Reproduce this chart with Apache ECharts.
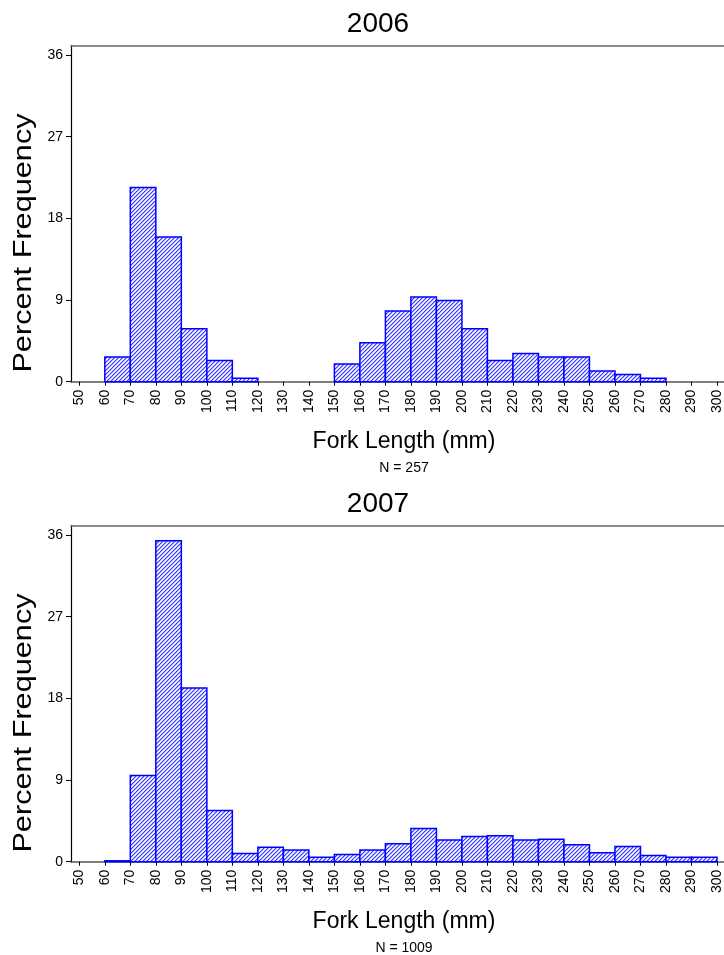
<!DOCTYPE html>
<html>
<head>
<meta charset="utf-8">
<script src="https://cdn.jsdelivr.net/npm/echarts@6/dist/echarts.min.js"></script>
<style>
html,body{margin:0;padding:0;background:#fff;}
#chart{width:724px;height:955px;}
</style>
</head>
<body>
<div id="chart"></div>
<script>
// ---- data ----
const binWidth = 10;
const titles = ['2006', '2007'];
const sampleSizes = ['N = 257', 'N = 1009'];
const xTicks = [50, 300, 10];          // min, max, step of the length axis
const yTicks = [0, 36, 9];             // min, max, step of the percent axis
const bins2006 = [60, 70, 80, 90, 100, 110, 150, 160, 170, 180, 190, 200, 210, 220, 230, 240, 250, 260, 270];
const pct2006  = [2.72, 21.40, 15.95, 5.84, 2.33, 0.39, 1.95, 4.28, 7.78, 9.34, 8.95, 5.84, 2.33, 3.11, 2.72, 2.72, 1.17, 0.78, 0.39];
const bins2007 = [60, 70, 80, 90, 100, 110, 120, 130, 140, 150, 160, 170, 180, 190, 200, 210, 220, 230, 240, 250, 260, 270, 280, 290];
const pct2007  = [0.10, 9.51, 35.38, 19.13, 5.65, 0.89, 1.59, 1.29, 0.50, 0.79, 1.29, 1.98, 3.67, 2.38, 2.78, 2.87, 2.38, 2.48, 1.88, 0.99, 1.68, 0.69, 0.50, 0.50];

// ---- hatch pattern (pixel diagonal "////") ----
function makeHatch() {
  const c = document.createElement('canvas');
  const s = 4;
  c.width = s; c.height = s;
  const g = c.getContext('2d');
  g.fillStyle = '#ffffff';
  g.fillRect(0, 0, s, s);
  for (let i = 0; i < s; i++) {
    const y = s - 1 - i;
    g.fillStyle = '#3c3cff';
    g.fillRect(i, y, 1, 1);
    g.fillStyle = '#a8a8ff';
    g.fillRect(i, (y + 1) % s, 1, 1);
    g.fillStyle = '#d6d6ff';
    g.fillRect(i, (y + s - 1) % s, 1, 1);
  }
  return c;
}
const hatch = { image: makeHatch(), repeat: 'repeat' };

const FONT = "'Liberation Sans', Arial, sans-serif";
const chart = echarts.init(document.getElementById('chart'), null, { renderer: 'canvas' });

const panelTop = [0, 480];
const grids = [], xAxes = [], yAxes = [], series = [], titleComps = [], graphics = [];

function buildPanel(p, bins, vals) {
  const off = panelTop[p];
  const fIdx = p * 2, dIdx = p * 2 + 1;
  grids.push({ left: 71, top: 45.7 + off, width: 653, height: 336 });
  grids.push({ left: 79.3, top: 55 + off, width: 639.7, height: 326.7 });

  xAxes.push({ gridIndex: fIdx, type: 'value', min: 0, max: 1, position: 'bottom',
    axisLine: { show: true, lineStyle: { color: '#555', width: 1.5 } },
    axisTick: { show: false }, axisLabel: { show: false }, splitLine: { show: false } });
  xAxes.push({ gridIndex: fIdx, type: 'value', min: 0, max: 1, position: 'top',
    axisLine: { show: true, lineStyle: { color: '#666', width: 1.5 } },
    axisTick: { show: false }, axisLabel: { show: false }, splitLine: { show: false } });
  yAxes.push({ gridIndex: fIdx, type: 'value', min: 0, max: 1,
    axisLine: { show: true, lineStyle: { color: '#000', width: 1.2 } },
    axisTick: { show: false }, axisLabel: { show: false }, splitLine: { show: false } });

  xAxes.push({ gridIndex: dIdx, type: 'value', min: xTicks[0], max: xTicks[1], interval: xTicks[2],
    axisLine: { show: false },
    axisTick: { show: true, inside: false, length: 4, lineStyle: { color: '#000', width: 1 } },
    axisLabel: { show: true, rotate: 90, margin: 8, fontSize: 14, color: '#000', fontFamily: FONT },
    splitLine: { show: false } });
  yAxes.push({ gridIndex: dIdx, type: 'value', min: yTicks[0], max: yTicks[1], interval: yTicks[2],
    offset: 8.3,
    axisLine: { show: false },
    axisTick: { show: true, inside: false, length: 5, lineStyle: { color: '#000', width: 1 } },
    axisLabel: { show: true, margin: 8, fontSize: 14, color: '#000', fontFamily: FONT },
    splitLine: { show: false } });

  const xi = xAxes.length - 1, yi = yAxes.length - 1;
  series.push({
    type: 'custom', xAxisIndex: xi, yAxisIndex: yi,
    data: bins.map((b, i) => [b, b + binWidth, vals[i]]),
    renderItem: function (params, api) {
      const p0 = api.coord([api.value(0), api.value(2)]);
      const p1 = api.coord([api.value(1), 0]);
      return { type: 'rect',
        shape: { x: p0[0], y: p0[1], width: p1[0] - p0[0], height: p1[1] - p0[1] },
        style: { fill: hatch, stroke: '#0000ff', lineWidth: 1.5 } };
    },
    silent: true, animation: false
  });

  titleComps.push({ text: titles[p], left: 373, top: 19 + off, textAlign: 'center', textVerticalAlign: 'middle',
    textStyle: { fontFamily: FONT, fontSize: 28, fontWeight: 'normal', color: '#000' } });
  titleComps.push({ text: 'Fork Length (mm)', left: 399, top: 437 + off, textAlign: 'center', textVerticalAlign: 'middle',
    textStyle: { fontFamily: FONT, fontSize: 23, fontWeight: 'normal', color: '#000' } });
  titleComps.push({ text: sampleSizes[p], left: 399, top: 463 + off, textAlign: 'center', textVerticalAlign: 'middle',
    textStyle: { fontFamily: FONT, fontSize: 14, fontWeight: 'normal', color: '#000' } });
  graphics.push({ type: 'text', x: 24, y: 243 + off, rotation: Math.PI / 2, scaleX: 1.18,
    style: { text: 'Percent Frequency', font: "26px 'Liberation Sans', Arial, sans-serif",
      textAlign: 'center', textVerticalAlign: 'middle', fill: '#000' } });
}

buildPanel(0, bins2006, pct2006);
buildPanel(1, bins2007, pct2007);

chart.setOption({
  animation: false,
  backgroundColor: '#fff',
  title: titleComps,
  grid: grids,
  xAxis: xAxes,
  yAxis: yAxes,
  series: series,
  graphic: graphics
});
</script>
</body>
</html>
